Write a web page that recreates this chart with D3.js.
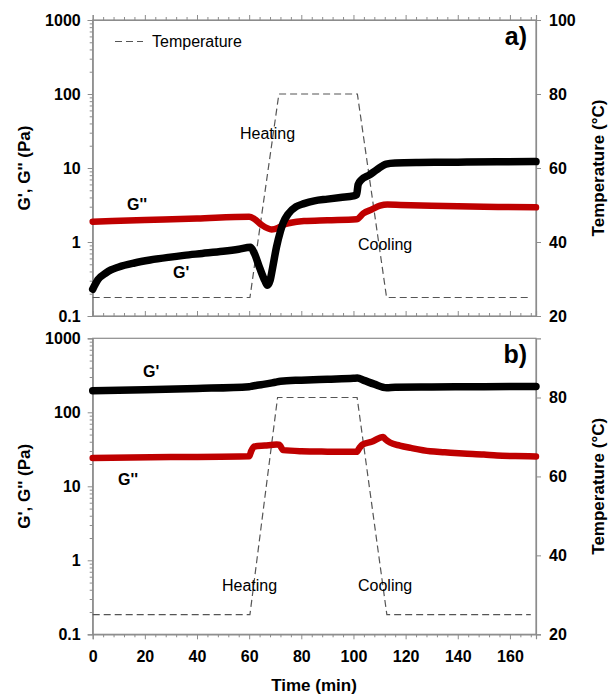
<!DOCTYPE html>
<html><head><meta charset="utf-8">
<script src="https://cdn.jsdelivr.net/npm/d3@7"></script>
<style>body{margin:0;background:#fff}svg{display:block}</style>
</head><body>
<svg id="c" width="608" height="698"></svg>
<script>
// ---------- data ----------
const xTicks = [0,20,40,60,80,100,120,140,160];
const yTicks = [0.1,1,10,100,1000];
const tTicksA = [20,40,60,80,100];
const tTicksB = [20,40,60,80];

// panel a
const aGpT = [0,2,5,7,10,16,22,29,35,42,50,56,60.5,62,64,66,67,68,69,70.5,72,73,75,78,81,85,90,95,100,101.2,101.8,103,106,109,112.5,116,125,140,155,170];
const aGpV = [0.23,0.31,0.38,0.42,0.46,0.52,0.57,0.62,0.66,0.70,0.75,0.80,0.85,0.70,0.45,0.30,0.26,0.30,0.45,0.86,1.4,1.8,2.4,3.0,3.3,3.6,3.8,4.0,4.2,4.35,6.0,6.9,8.0,9.5,11.3,11.7,11.9,12.0,12.1,12.2];
const aGppT = [0,20,40,60,62,64.8,68.6,71,73,76,81,90,101.2,103.8,107,110.2,113,118,130,150,170];
const aGppV = [1.88,1.98,2.08,2.2,2.05,1.7,1.48,1.55,1.70,1.82,1.92,1.97,2.03,2.44,2.75,3.09,3.2,3.16,3.08,3.0,2.94];
const aTempT = [0,60.3,71.4,101.5,112.7,168];
const aTempV = [25,25,80,80,25,25];

// panel b
const bGpT = [0,20,40,60,61,63,66,70,72,80,90,100,101.5,104,108,112.7,116,130,150,170];
const bGpV = [196,202,210,222,225,232,240,255,263,272,280,288,290,270,240,215,218,220,222,224];
const bGppT = [0,30,60,60.8,62,66,70.5,71.5,73.1,80,90,101.2,102.3,103.5,107,111.4,112.3,114,117.8,122,129.4,135,142,150,155,162,170];
const bGppV = [24.2,24.8,25.4,30,34.5,35.5,36.6,36.5,30.8,29.8,29.4,29.2,33,36.6,40,46.5,43,39,35.5,33,29.7,28.8,27.7,26.8,26.0,25.6,25.3];
const bTempT = [0,60.3,70.9,101.4,112.8,168];
const bTempV = [25,25,80,80,25,25];

// ---------- drawing ----------
const svg = d3.select("#c");
const FONT = "'Liberation Sans', Arial, sans-serif";
const X0 = 92.7, X1 = 536;
const frameCol = "#8c8c8c";
const x = d3.scaleLinear().domain([0,170]).range([X0,X1]);

const panels = [
  {top:20, bot:316, tDom:[20,100], tTicks:tTicksA, gp:[aGpT,aGpV], gpp:[aGppT,aGppV], temp:[aTempT,aTempV], label:"a)", xlabels:false, topTicks:true},
  {top:338.3, bot:634.3, tDom:[20,95], tTicks:tTicksB, gp:[bGpT,bGpV], gpp:[bGppT,bGppV], temp:[bTempT,bTempV], label:"b)", xlabels:true, topTicks:false}
];

const minors = [];
for (let e=-1;e<3;e++) for (let m=2;m<10;m++) minors.push(m*Math.pow(10,e));
const xMinor = d3.range(0,171,4).filter(v=>v%20!==0);

function styleAxis(g){
  g.selectAll("path.domain").attr("stroke",frameCol).attr("stroke-width",1.2);
  g.selectAll(".tick line").attr("stroke",frameCol).attr("stroke-width",1);
  g.selectAll("text").attr("font-family",FONT).attr("font-weight","bold").attr("font-size",16).attr("fill","#000");
}

panels.forEach((p,i)=>{
  const y = d3.scaleLog().domain([0.1,1000]).range([p.bot,p.top]);
  const t = d3.scaleLinear().domain(p.tDom).range([p.bot,p.top]);

  // frame
  svg.append("rect").attr("x",X0).attr("y",p.top).attr("width",X1-X0).attr("height",p.bot-p.top)
    .attr("fill","none").attr("stroke",frameCol).attr("stroke-width",1.2);

  // left axis
  const gl = svg.append("g").attr("transform",`translate(${X0},0)`)
    .call(d3.axisLeft(y).tickValues(yTicks).tickSize(5).tickPadding(7).tickFormat(d=>d<1?"0.1":String(d)));
  styleAxis(gl);
  const glm = svg.append("g").attr("transform",`translate(${X0},0)`)
    .call(d3.axisLeft(y).tickValues(minors).tickSize(3).tickFormat(""));
  styleAxis(glm); glm.select("path.domain").remove();

  // right axis
  const gr = svg.append("g").attr("transform",`translate(${X1},0)`)
    .call(d3.axisRight(t).tickValues(p.tTicks).tickSize(5).tickPadding(8).tickFormat(d3.format("d")));
  styleAxis(gr);

  // bottom axis
  const gb = svg.append("g").attr("transform",`translate(0,${p.bot})`)
    .call((p.xlabels?d3.axisBottom(x):d3.axisTop(x)).tickValues(xTicks).tickSize(5).tickPadding(11).tickFormat(p.xlabels?d3.format("d"):""));
  styleAxis(gb);
  const gbm = svg.append("g").attr("transform",`translate(0,${p.bot})`)
    .call((p.xlabels?d3.axisBottom(x):d3.axisTop(x)).tickValues(xMinor).tickSize(3).tickFormat(""));
  styleAxis(gbm); gbm.select("path.domain").remove();

  if (p.topTicks){
    const gt = svg.append("g").attr("transform",`translate(0,${p.top})`)
      .call(d3.axisTop(x).tickValues(xTicks).tickSize(5).tickFormat(""));
    styleAxis(gt);
    const gtm = svg.append("g").attr("transform",`translate(0,${p.top})`)
      .call(d3.axisTop(x).tickValues(xMinor).tickSize(3).tickFormat(""));
    styleAxis(gtm); gtm.select("path.domain").remove();
  }

  // temperature
  const tempData = p.temp[0].map((v,k)=>[v,p.temp[1][k]]);
  svg.append("path").datum(tempData)
    .attr("d",d3.line().x(d=>x(d[0])).y(d=>t(d[1])))
    .attr("fill","none").attr("stroke","#555").attr("stroke-width",1.2).attr("stroke-dasharray","7,4");

  const line = d3.line().x(d=>x(d[0])).y(d=>y(d[1])).curve(d3.curveMonotoneX);
  const gppData = p.gpp[0].map((v,k)=>[v,p.gpp[1][k]]);
  const gpData = p.gp[0].map((v,k)=>[v,p.gp[1][k]]);
  svg.append("path").datum(gppData).attr("d",line).attr("fill","none")
    .attr("stroke","#bf0000").attr("stroke-width",6.5).attr("stroke-linecap","round").attr("stroke-linejoin","round");
  svg.append("path").datum(gpData).attr("d",line).attr("fill","none")
    .attr("stroke","#000").attr("stroke-width",7.5).attr("stroke-linecap","round").attr("stroke-linejoin","round");

  // panel label
  svg.append("text").attr("x",527).attr("y",p.top+25).attr("text-anchor","end")
    .attr("font-family",FONT).attr("font-weight","bold").attr("font-size",25).text(p.label);

  // axis titles
  const cy = (p.top+p.bot)/2;
  svg.append("text").attr("transform",`translate(24.5,${cy}) rotate(-90)`).attr("text-anchor","middle")
    .attr("dominant-baseline","central").attr("font-family",FONT).attr("font-weight","bold").attr("font-size",17)
    .text("G', G'' (Pa)");
  svg.append("text").attr("transform",`translate(598,${cy}) rotate(-90)`).attr("text-anchor","middle")
    .attr("dominant-baseline","central").attr("font-family",FONT).attr("font-weight","bold").attr("font-size",17)
    .text("Temperature (°C)");
});

function txt(xp,yp,s,bold,size,anchor){
  svg.append("text").attr("x",xp).attr("y",yp).attr("font-family",FONT)
    .attr("font-weight",bold?"bold":"normal").attr("font-size",size).attr("text-anchor",anchor||"start").text(s);
}
// legend
svg.append("line").attr("x1",115).attr("x2",143).attr("y1",41.5).attr("y2",41.5)
  .attr("stroke","#555").attr("stroke-width",1.2).attr("stroke-dasharray","7,4");
txt(152,47,"Temperature",false,16);
// annotations panel a
txt(240,138.5,"Heating",false,16);
txt(358,249.5,"Cooling",false,16);
txt(127,210,"G''",true,16);
txt(173,278,"G'",true,16);
// annotations panel b
txt(222,591,"Heating",false,16);
txt(358,591,"Cooling",false,16);
txt(143,377,"G'",true,16);
txt(118,485,"G''",true,16);
// x title
txt(314,691,"Time (min)",true,17,"middle");
</script>
</body></html>
